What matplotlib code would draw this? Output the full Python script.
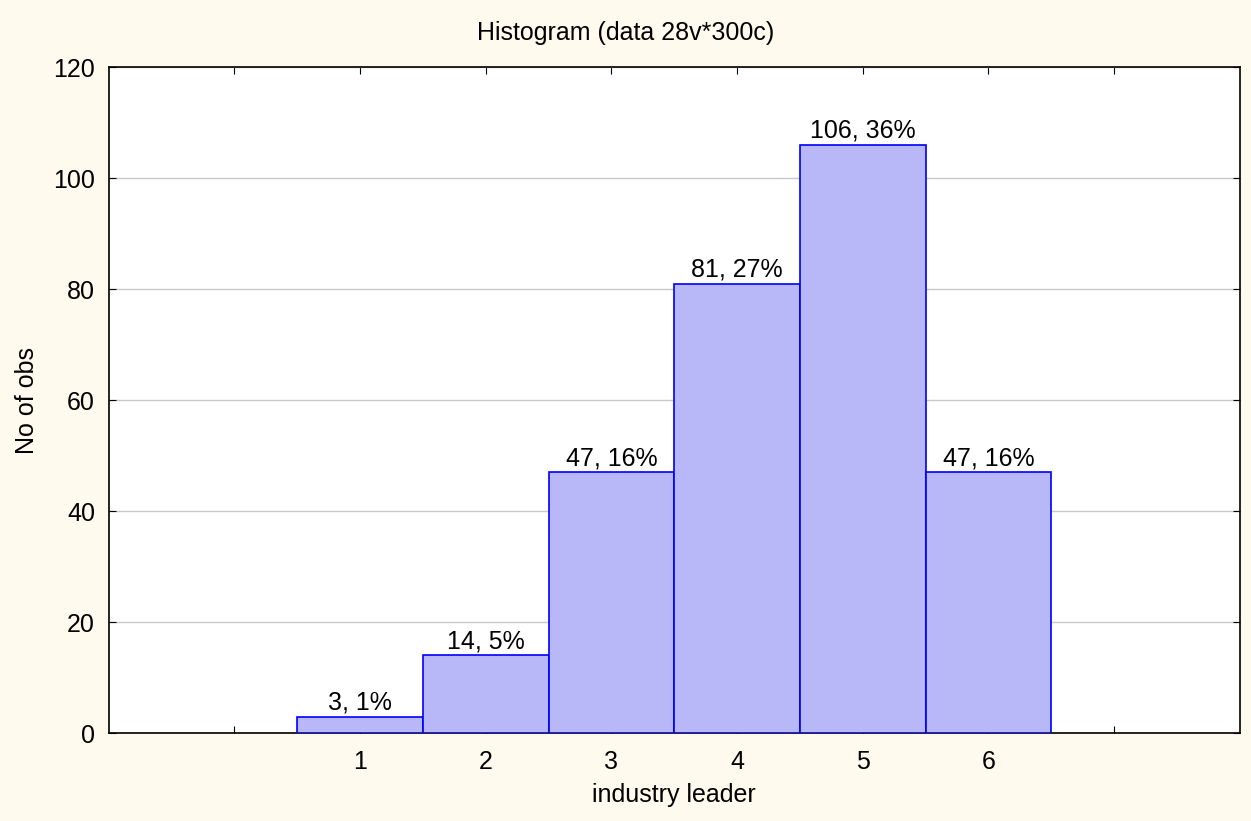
import numpy as np
import matplotlib
matplotlib.use("Agg")
import matplotlib.pyplot as plt

plt.rcParams['font.family'] = ['Liberation Sans', 'DejaVu Sans']

# data
categories = [1, 2, 3, 4, 5, 6]
counts = [3, 14, 47, 81, 106, 47]
percents = [1, 5, 16, 27, 36, 16]

fig = plt.figure(figsize=(12.51, 8.21), dpi=100)
fig.patch.set_facecolor('#FFF9EE')
ax = fig.add_axes([0.087, 0.107, 0.904, 0.811])
ax.set_facecolor('white')

bars = ax.bar(categories, counts, width=1.0, facecolor='#B8B8F8',
              edgecolor='#0000FF', linewidth=1.2, zorder=3)

for x, c, p in zip(categories, counts, percents):
    ax.text(x, c + 0.4, f"{c}, {p}%", ha='center', va='bottom', fontsize=18, zorder=4)

ax.set_xlim(-1, 8)
ax.set_ylim(0, 120)
ax.set_xticks(range(0, 8))
ax.set_xticklabels([''] + [str(c) for c in categories] + [''])
ax.set_yticks(range(0, 121, 20))
ax.yaxis.grid(True, color='#C8C8C8', linewidth=1, zorder=0)
ax.tick_params(direction='in', top=True, right=True, labelsize=18, length=5)
ax.tick_params(axis='x', pad=12)
ax.tick_params(axis='y', pad=10)
for s in ax.spines.values():
    s.set_linewidth(1.2)

fig.text(0.5, 1 - 33 / 821, 'Histogram (data 28v*300c)', fontsize=18, ha='center', va='center')
ax.set_xlabel('industry leader', fontsize=18)
ax.xaxis.set_label_coords(0.5, -0.093)
ax.xaxis.label.set_va('center')
ax.set_ylabel('No of obs', fontsize=18)
ax.yaxis.set_label_coords(-0.0725, 0.5)
ax.yaxis.label.set_va('center')

fig.savefig('out.png', dpi=100, facecolor=fig.get_facecolor())
